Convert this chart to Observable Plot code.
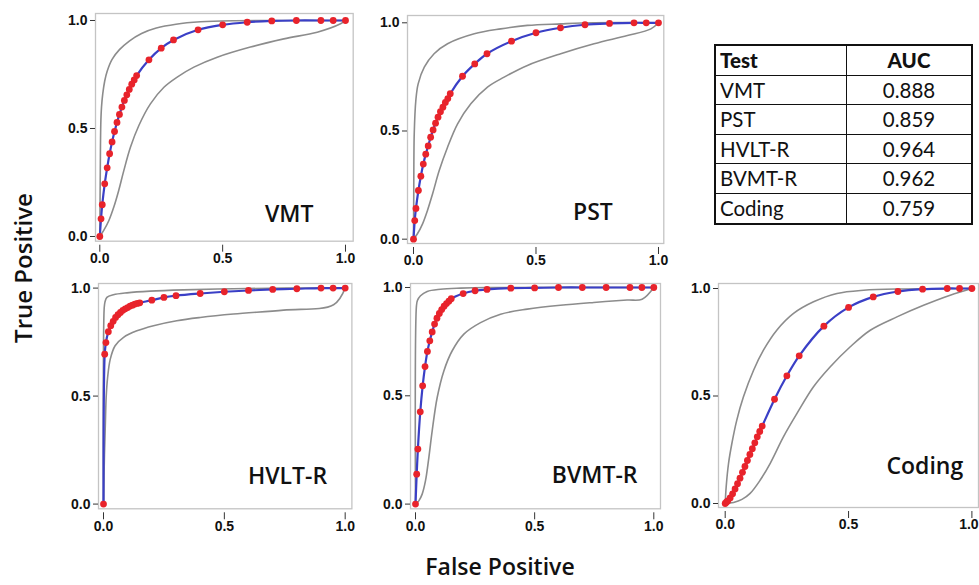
<!DOCTYPE html>
<html>
<head>
<meta charset="utf-8">
<script src="https://cdn.jsdelivr.net/npm/d3@7"></script>
<script src="https://cdn.jsdelivr.net/npm/@observablehq/plot@0.6"></script>
<style>
  html, body { margin: 0; padding: 0; background: #fff; overflow: hidden; }
  #root { position: relative; width: 979px; height: 585px; overflow: hidden; }
  .panel { position: absolute; }
  .axis-title { position: absolute; font-family: "Open Sans", sans-serif; font-weight: 600; font-size: 24px; line-height: 1; color: #111; white-space: nowrap; }
  #auc { position: absolute; border-collapse: collapse; font-family: Lato, "Open Sans", sans-serif; font-size: 20.5px; color: #111; }
  #auc td, #auc th { border: 1.6px solid #111; padding: 0 4px; height: 28.6px; line-height: 1; }
  #auc { border: 2.6px solid #111; }
  #auc th { font-weight: 900; }
  #auc .c1 { text-align: left; width: 122px; }
  #auc .c2 { text-align: center; }
</style>
</head>
<body>
<div id="root"></div>
<script>
// ---------- data ----------
const tickValues = [0, 0.5, 1.0];
const rocFpr = [0, 0.005, 0.01, 0.02, 0.03, 0.04, 0.05, 0.06, 0.07, 0.08, 0.09, 0.10, 0.11, 0.12, 0.13, 0.14, 0.15,
                0.20, 0.25, 0.30, 0.40, 0.50, 0.60, 0.70, 0.80, 0.90, 0.95, 1.0];

const testNames = ["VMT", "PST", "HVLT-R", "BVMT-R", "Coding"];
const aucValues = ["0.888", "0.859", "0.964", "0.962", "0.759"];
const tableHeaders = ["Test", "AUC"];

const vmtTpr = [0, 0.082, 0.147, 0.244, 0.318, 0.383, 0.438, 0.486, 0.528, 0.565, 0.599, 0.630, 0.656, 0.681, 0.705, 0.725, 0.745,
                0.818, 0.872, 0.910, 0.957, 0.980, 0.992, 0.998, 1, 1, 1, 1];
const vmtUpperFpr = [0, 0.002, 0.004, 0.007, 0.012, 0.02, 0.03, 0.05, 0.08, 0.12, 0.17, 0.23, 0.31, 0.41, 0.55, 0.7, 1];
const vmtUpperTpr = [0, 0.30, 0.52, 0.60, 0.66, 0.72, 0.765, 0.82, 0.865, 0.905, 0.94, 0.965, 0.983, 0.994, 0.999, 1, 1];
const vmtLowerFpr = [0, 0.016, 0.037, 0.057, 0.077, 0.098, 0.125, 0.159, 0.206, 0.261, 0.315, 0.383, 0.478, 0.613, 0.749, 0.885, 0.98, 1];
const vmtLowerTpr = [0, 0.028, 0.074, 0.136, 0.213, 0.306, 0.414, 0.514, 0.614, 0.691, 0.738, 0.784, 0.83, 0.877, 0.915, 0.946, 0.985, 1];

const pstTpr = [0, 0.086, 0.142, 0.225, 0.291, 0.347, 0.393, 0.431, 0.471, 0.505, 0.536, 0.564, 0.589, 0.610, 0.632, 0.650, 0.672,
                0.753, 0.810, 0.857, 0.915, 0.954, 0.977, 0.991, 0.997, 1, 1, 1];
const pstUpperFpr = [0, 0.001, 0.003, 0.0095, 0.019, 0.044, 0.084, 0.139, 0.248, 0.356, 0.465, 0.601, 0.737, 1];
const pstUpperTpr = [0, 0.20, 0.487, 0.641, 0.718, 0.795, 0.857, 0.903, 0.949, 0.972, 0.988, 0.995, 1, 1];
const pstLowerFpr = [0, 0.016, 0.037, 0.057, 0.078, 0.105, 0.139, 0.180, 0.234, 0.302, 0.370, 0.465, 0.601, 0.737, 0.873, 0.969, 1];
const pstLowerTpr = [0, 0.025, 0.071, 0.133, 0.210, 0.317, 0.425, 0.533, 0.626, 0.703, 0.749, 0.803, 0.857, 0.903, 0.941, 0.972, 1];

const hvltTpr = [0, 0.694, 0.748, 0.798, 0.826, 0.846, 0.864, 0.877, 0.887, 0.897, 0.904, 0.910, 0.917, 0.921, 0.926, 0.929, 0.932,
                 0.944, 0.957, 0.965, 0.975, 0.983, 0.989, 0.994, 0.997, 1, 1, 1];
const hvltUpperFpr = [0, 0.003, 0.006, 0.014, 0.041, 0.097, 0.193, 0.331, 0.538, 0.75, 1];
const hvltUpperTpr = [0, 0.91, 0.935, 0.957, 0.969, 0.978, 0.986, 0.992, 0.997, 1, 1];
const hvltLowerFpr = [0, 0.004, 0.008, 0.011, 0.017, 0.028, 0.048, 0.083, 0.138, 0.207, 0.303, 0.4, 0.538, 0.745, 0.952, 1];
const hvltLowerTpr = [0, 0.231, 0.386, 0.494, 0.586, 0.671, 0.733, 0.772, 0.802, 0.826, 0.849, 0.864, 0.88, 0.898, 0.923, 1];

const bvmtTpr = [0, 0.138, 0.254, 0.426, 0.546, 0.635, 0.705, 0.754, 0.795, 0.831, 0.858, 0.880, 0.898, 0.914, 0.926, 0.937, 0.948,
                 0.972, 0.985, 0.991, 0.997, 0.998, 1, 1, 1, 1, 1, 1];
const bvmtUpperFpr = [0, 0.004, 0.008, 0.021, 0.049, 0.105, 0.189, 0.3, 1];
const bvmtUpperTpr = [0, 0.915, 0.94, 0.962, 0.982, 0.992, 0.997, 1, 1];
const bvmtLowerFpr = [0, 0.014, 0.028, 0.042, 0.056, 0.07, 0.091, 0.119, 0.154, 0.203, 0.273, 0.357, 0.469, 0.608, 0.748, 0.888, 0.951, 1];
const bvmtLowerTpr = [0, 0.015, 0.046, 0.108, 0.215, 0.338, 0.492, 0.615, 0.708, 0.785, 0.838, 0.877, 0.9, 0.918, 0.931, 0.942, 0.946, 1];

const codingTpr = [0, 0.006, 0.012, 0.026, 0.045, 0.068, 0.092, 0.118, 0.145, 0.172, 0.200, 0.228, 0.255, 0.282, 0.310, 0.335, 0.360,
                   0.485, 0.594, 0.687, 0.825, 0.912, 0.961, 0.986, 0.997, 1, 1, 1];
const codingUpperFpr = [0, 0.004, 0.0135, 0.027, 0.047, 0.074, 0.115, 0.155, 0.209, 0.277, 0.358, 0.453, 0.561, 0.723, 1];
const codingUpperTpr = [0, 0.078, 0.186, 0.279, 0.388, 0.496, 0.62, 0.713, 0.806, 0.884, 0.938, 0.977, 0.992, 0.998, 1];
const codingLowerFpr = [0, 0.034, 0.068, 0.101, 0.142, 0.182, 0.236, 0.291, 0.358, 0.426, 0.507, 0.588, 0.696, 0.804, 0.912, 1];
const codingLowerTpr = [0, 0.005, 0.019, 0.047, 0.109, 0.186, 0.31, 0.419, 0.543, 0.636, 0.729, 0.806, 0.868, 0.922, 0.969, 1];

// ---------- layout (pixels) ----------
const layout = [
  {frame: [95, 13, 352.7, 240.7],    x0: 99.3,  x1: 345,   y0: 236,   y1: 20,    label: [313, 222], tickDx: 0},
  {frame: [406.7, 15, 663, 243],     x0: 412.7, x1: 657.7, y0: 238.7, y1: 22.3,  label: [612, 220], tickDx: 0},
  {frame: [98.3, 282.7, 351.7, 508], x0: 103.3, x1: 345,   y0: 503.3, y1: 287.3, label: [327, 483], tickDx: 0},
  {frame: [410, 282.7, 660, 508],    x0: 415,   x1: 653.3, y0: 503.3, y1: 286.7, label: [637, 482], tickDx: 0},
  {frame: [718.3, 283.3, 978.3, 507.3], x0: 725, x1: 971.7, y0: 503.3, y1: 288.3, label: [963, 474], tickDx: -3}
];

const series = [
  {tpr: vmtTpr, upper: [vmtUpperFpr, vmtUpperTpr], lower: [vmtLowerFpr, vmtLowerTpr]},
  {tpr: pstTpr, upper: [pstUpperFpr, pstUpperTpr], lower: [pstLowerFpr, pstLowerTpr]},
  {tpr: hvltTpr, upper: [hvltUpperFpr, hvltUpperTpr], lower: [hvltLowerFpr, hvltLowerTpr]},
  {tpr: bvmtTpr, upper: [bvmtUpperFpr, bvmtUpperTpr], lower: [bvmtLowerFpr, bvmtLowerTpr]},
  {tpr: codingTpr, upper: [codingUpperFpr, codingUpperTpr], lower: [codingLowerFpr, codingLowerTpr]}
];

const pts = (xs, ys) => xs.map((x, i) => ({x, y: ys[i]}));
const fmt = d3.format(".1f");
const root = document.getElementById("root");
const mL = 45, mR = 10, mT = 5, mB = 30;

series.forEach((s, i) => {
  const L = layout[i];
  const [l, t, r, b] = L.frame;
  const kx = L.x1 - L.x0, ky = L.y0 - L.y1;
  const xDomain = [(l - L.x0) / kx, (r - L.x0) / kx];
  const yDomain = [(L.y0 - b) / ky, (L.y0 - t) / ky];
  const roc = pts(rocFpr, s.tpr);
  const chart = Plot.plot({
    width: (r - l) + mL + mR,
    height: (b - t) + mT + mB,
    marginLeft: mL, marginRight: mR, marginTop: mT, marginBottom: mB,
    x: {domain: xDomain},
    y: {domain: yDomain},
    style: {fontFamily: "'Liberation Sans', Arial, sans-serif", fontSize: "14px", fontWeight: "bold", color: "#111", background: "transparent", overflow: "visible"},
    marks: [
      Plot.frame({stroke: "#c4c4c4", strokeWidth: 1.3}),
      Plot.axisY(tickValues, {tickFormat: fmt, tickSize: 5, tickPadding: 3, label: null, stroke: "#333"}),
      Plot.axisX(tickValues, {tickFormat: fmt, tickSize: 7, tickPadding: 1, dy: 4, label: null, stroke: "#333", textStroke: "none"}),
      Plot.line(pts(...s.upper), {x: "x", y: "y", stroke: "#8c8c8c", strokeWidth: 1.6, curve: "catmull-rom"}),
      Plot.line(pts(...s.lower), {x: "x", y: "y", stroke: "#8c8c8c", strokeWidth: 1.6, curve: "catmull-rom"}),
      Plot.line(roc, {x: "x", y: "y", stroke: "#3a3fc6", strokeWidth: 2.2, curve: "catmull-rom"}),
      Plot.dot(roc, {x: "x", y: "y", r: 3.4, fill: "#e8232b", stroke: "none"}),
      Plot.text([testNames[i]], {
        text: d => d, frameAnchor: "bottom-right", textAnchor: "end", lineAnchor: "bottom",
        dx: L.label[0] - r, dy: L.label[1] - b,
        fontFamily: "'Open Sans', sans-serif", fontSize: 23, fontWeight: 600, fill: "#111"
      })
    ]
  });
  if (L.tickDx) {
    // nudge the last panel's right x tick label so it stays inside the page
    chart.querySelectorAll("g[aria-label='x-axis tick label'] text").forEach((tx, k) => {
      if (k === tickValues.length - 1) tx.setAttribute("dx", L.tickDx);
    });
  }
  chart.classList.add("panel");
  chart.style.left = (l - mL) + "px";
  chart.style.top = (t - mT) + "px";
  root.appendChild(chart);
});

// ---------- AUC table ----------
const table = document.createElement("table");
table.id = "auc";
table.style.left = "714px";
table.style.top = "44px";
table.style.width = "259px";
const head = document.createElement("tr");
tableHeaders.forEach((h, j) => {
  const th = document.createElement("th");
  th.textContent = h;
  th.className = j === 0 ? "c1" : "c2";
  head.appendChild(th);
});
table.appendChild(head);
testNames.forEach((name, j) => {
  const tr = document.createElement("tr");
  const a = document.createElement("td"); a.className = "c1"; a.textContent = name;
  const c = document.createElement("td"); c.className = "c2"; c.textContent = aucValues[j];
  tr.appendChild(a); tr.appendChild(c);
  table.appendChild(tr);
});
root.appendChild(table);

// ---------- axis titles ----------
const yTitle = document.createElement("div");
yTitle.className = "axis-title";
yTitle.textContent = "True Positive";
yTitle.style.left = "23px";
yTitle.style.top = "268px";
yTitle.style.transform = "translate(-50%, -50%) rotate(-90deg)";
root.appendChild(yTitle);

const xTitle = document.createElement("div");
xTitle.className = "axis-title";
xTitle.textContent = "False Positive";
xTitle.style.fontSize = "23px";
xTitle.style.left = "500px";
xTitle.style.top = "566px";
xTitle.style.transform = "translate(-50%, -50%)";
root.appendChild(xTitle);
</script>
</body>
</html>
